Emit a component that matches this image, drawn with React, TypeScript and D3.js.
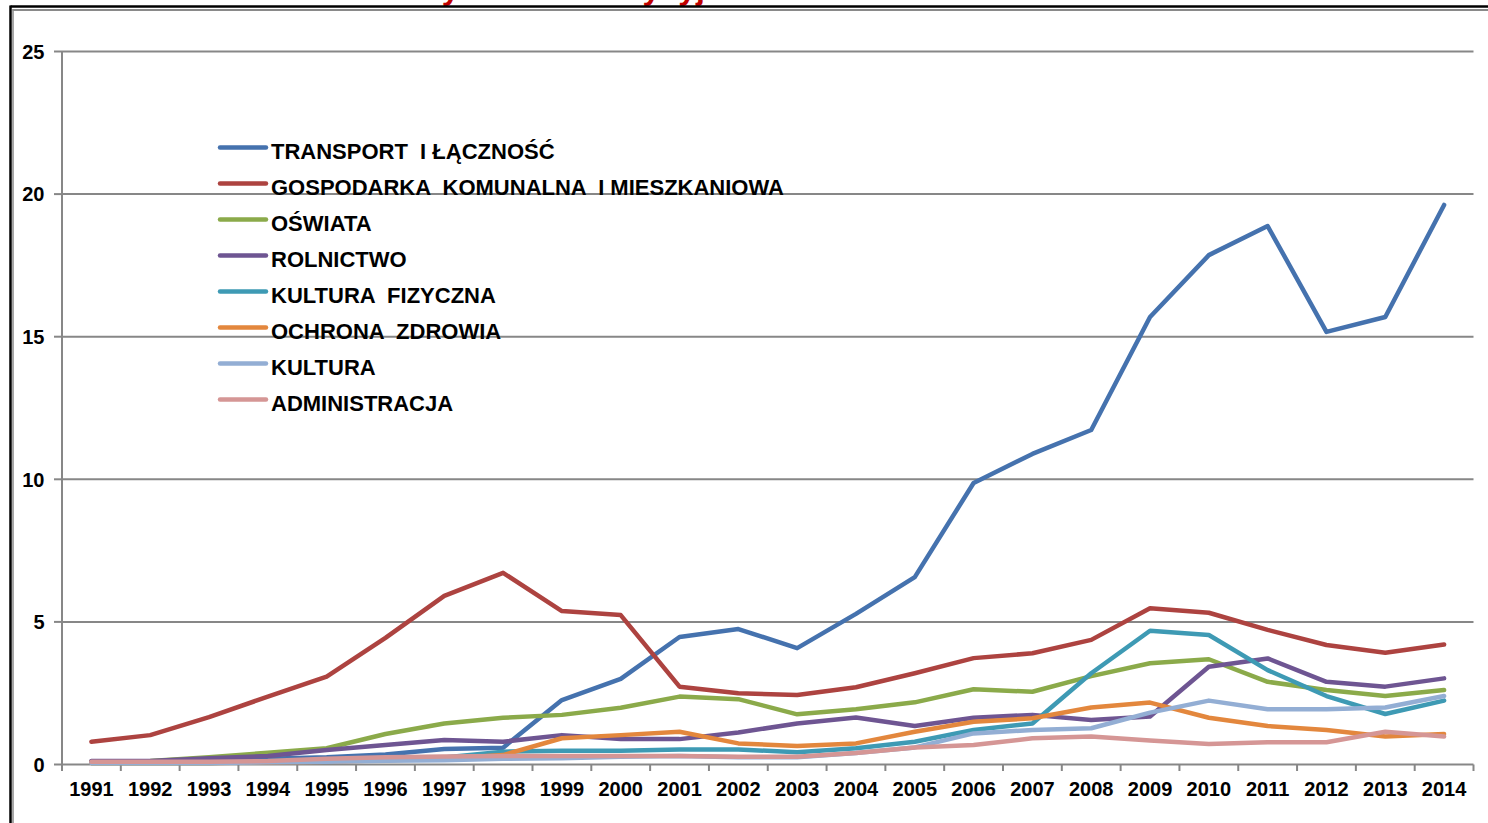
import React from "react";
import * as d3 from "d3";

const years = [
  "1991","1992","1993","1994","1995","1996","1997","1998","1999","2000","2001","2002",
  "2003","2004","2005","2006","2007","2008","2009","2010","2011","2012","2013","2014",
];

const seriesNames = [
  "TRANSPORT  I ŁĄCZNOŚĆ",
  "GOSPODARKA  KOMUNALNA  I MIESZKANIOWA",
  "OŚWIATA",
  "ROLNICTWO",
  "KULTURA  FIZYCZNA",
  "OCHRONA  ZDROWIA",
  "KULTURA",
  "ADMINISTRACJA",
];

const seriesColors = [
  "#4572AE", "#AD4340", "#8BAA4A", "#6E5592", "#3E9AB4", "#E3873D", "#93AED4", "#D59695",
];

const transport = [0.1,0.1,0.15,0.2,0.25,0.35,0.54,0.59,2.26,3.0,4.47,4.75,4.08,5.28,6.57,9.87,10.89,11.73,15.69,17.86,18.88,15.17,15.69,19.62];
const gospodarka = [0.8,1.03,1.66,2.38,3.08,4.44,5.91,6.72,5.38,5.24,2.73,2.5,2.44,2.71,3.2,3.73,3.9,4.37,5.48,5.32,4.72,4.19,3.92,4.21];
const oswiata = [0.1,0.12,0.25,0.41,0.57,1.07,1.44,1.64,1.74,1.99,2.38,2.29,1.76,1.94,2.18,2.64,2.55,3.1,3.55,3.69,2.9,2.61,2.4,2.61];
const rolnictwo = [0.12,0.12,0.22,0.3,0.51,0.68,0.86,0.8,1.03,0.89,0.89,1.12,1.44,1.65,1.35,1.64,1.74,1.56,1.68,3.43,3.72,2.9,2.73,3.02];
const kulturaFizyczna = [0.05,0.05,0.05,0.1,0.15,0.2,0.25,0.45,0.48,0.48,0.53,0.53,0.43,0.57,0.8,1.21,1.44,3.2,4.69,4.54,3.31,2.4,1.77,2.24];
const ochronaZdrowia = [0.05,0.05,0.05,0.08,0.1,0.15,0.2,0.33,0.92,1.03,1.15,0.74,0.65,0.74,1.15,1.5,1.62,2.0,2.17,1.64,1.35,1.21,0.98,1.07];
const kultura = [0.05,0.05,0.05,0.08,0.1,0.13,0.15,0.2,0.22,0.27,0.3,0.25,0.25,0.4,0.6,1.09,1.21,1.27,1.82,2.24,1.94,1.94,2.0,2.4];
const administracja = [0.1,0.1,0.1,0.12,0.2,0.25,0.28,0.3,0.3,0.3,0.3,0.27,0.27,0.4,0.6,0.68,0.92,0.98,0.84,0.72,0.78,0.78,1.15,0.98];

const seriesValues = [transport, gospodarka, oswiata, rolnictwo, kulturaFizyczna, ochronaZdrowia, kultura, administracja];

const yTicks = [0, 5, 10, 15, 20, 25];

const titleText = "Wydatki inwestycyjne w mln zł";

export default function App() {
  const W = 1488;
  const H = 823;
  const left = 62;
  const right = 1473.5;
  const x = d3.scaleBand<string>().domain(years).range([left, right]).paddingInner(0).paddingOuter(0);
  const y = d3.scaleLinear().domain([0, 25]).range([764.5, 51.5]);
  const cx = (yr: string) => (x(yr) as number) + x.bandwidth() / 2;
  const line = d3
    .line<number>()
    .x((_, i) => cx(years[i]))
    .y((d) => y(d));

  const font = "'Liberation Sans', Arial, sans-serif";
  const boundaries = years.map((yr) => x(yr) as number).concat([right]);

  return (
    <svg
      width={W}
      height={H}
      style={{ position: "absolute", left: 0, top: 0, background: "#fff" }}
      fontFamily={font}
    >
      <rect x={0} y={0} width={W} height={H} fill="#fff" />
      {/* cut-off title */}
      <text x={412} y={-1.5} fill="#C00000" fontSize={32} fontWeight="bold">
        {titleText}
      </text>
      {/* frame */}
      <line x1={10.5} x2={W} y1={6.5} y2={6.5} stroke="#000" strokeWidth={2.5} />
      <line x1={10.5} x2={10.5} y1={5.5} y2={H} stroke="#000" strokeWidth={2.5} />
      <line x1={12.5} x2={W} y1={10} y2={10} stroke="#8a8a8a" strokeWidth={2} />
      <line x1={13} x2={13} y1={9} y2={H} stroke="#8a8a8a" strokeWidth={1.5} />

      {/* gridlines */}
      {yTicks.filter((t) => t > 0).map((t) => (
        <line key={"g" + t} x1={left} x2={right} y1={y(t)} y2={y(t)} stroke="#878787" strokeWidth={2} />
      ))}
      {/* y axis */}
      <line x1={left} x2={left} y1={y(25)} y2={y(0)} stroke="#878787" strokeWidth={2} />
      {yTicks.map((t) => (
        <g key={"yt" + t}>
          <line x1={54} x2={left} y1={y(t)} y2={y(t)} stroke="#878787" strokeWidth={2} />
          <text x={44.5} y={y(t)} dy="0.36em" textAnchor="end" fontSize={20} fontWeight="bold" fill="#000">
            {t}
          </text>
        </g>
      ))}
      {/* x axis */}
      <line x1={left} x2={right} y1={y(0)} y2={y(0)} stroke="#878787" strokeWidth={2} />
      {boundaries.map((b, i) => (
        <line key={"xt" + i} x1={b} x2={b} y1={y(0)} y2={y(0) + 6.5} stroke="#878787" strokeWidth={2} />
      ))}
      {years.map((yr) => (
        <text key={"xl" + yr} x={cx(yr)} y={796} textAnchor="middle" fontSize={20} fontWeight="bold" fill="#000">
          {yr}
        </text>
      ))}

      {/* series */}
      {seriesValues.map((vals, i) => (
        <path
          key={"s" + i}
          d={line(vals) || ""}
          fill="none"
          stroke={seriesColors[i]}
          strokeWidth={4.5}
          strokeLinejoin="round"
          strokeLinecap="round"
        />
      ))}

      {/* legend */}
      {seriesNames.map((n, i) => {
        const ly = 147.5 + i * 36;
        return (
          <g key={"l" + i}>
            <line x1={220} x2={266} y1={ly} y2={ly} stroke={seriesColors[i]} strokeWidth={4.5} strokeLinecap="round" />
            <text x={271} y={ly + 11.5} fontSize={22} fontWeight="bold" fill="#000" style={{ whiteSpace: "pre" }}>
              {n}
            </text>
          </g>
        );
      })}
    </svg>
  );
}
